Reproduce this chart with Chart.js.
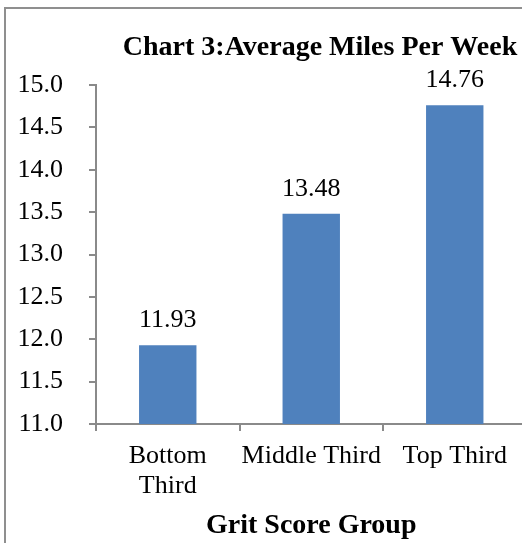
<!DOCTYPE html>
<html>
<head>
<meta charset="utf-8">
<script src="https://cdn.jsdelivr.net/npm/chart.js@4/dist/chart.umd.min.js"></script>
<style>
  html, body { margin: 0; padding: 0; width: 522px; height: 543px; overflow: hidden; background: #fff; }
  .frame { position: absolute; left: 4px; top: 7px; width: 700px; height: 700px; border: 2px solid #8f8f8f; }
  #chart { position: absolute; left: 0; top: 0; }
</style>
</head>
<body>
<div class="frame"></div>
<canvas id="chart" width="640" height="543"></canvas>
<script>
// data
const categories = [['Bottom', 'Third'], 'Middle Third', 'Top Third'];
const avgMiles = [11.93, 13.48, 14.76];
const yMin = 11.0;
const yMax = 15.0;
const yStep = 0.5;
const chartTitle = 'Chart 3:Average Miles Per Week';
const xTitle = 'Grit Score Group';

const serif = "'Liberation Serif', 'Times New Roman', serif";
const axisGray = '#8a8a8a';

// titre centré sur le canvas (comme dans Excel)
const titlePlugin = {
  id: 'topTitle',
  afterDraw(chart) {
    const ctx = chart.ctx;
    ctx.save();
    ctx.font = 'bold 28px ' + serif;
    ctx.fillStyle = '#000';
    ctx.textAlign = 'center';
    ctx.textBaseline = 'alphabetic';
    ctx.fillText(chartTitle, chart.width / 2, 55);
    ctx.restore();
  }
};

// valeurs au-dessus des barres
const valueLabels = {
  id: 'valueLabels',
  afterDatasetsDraw(chart) {
    const ctx = chart.ctx;
    const meta = chart.getDatasetMeta(0);
    ctx.save();
    ctx.font = '26px ' + serif;
    ctx.fillStyle = '#000';
    ctx.textAlign = 'center';
    ctx.textBaseline = 'alphabetic';
    meta.data.forEach((bar, i) => {
      ctx.fillText(avgMiles[i].toFixed(2), bar.x, bar.y - 18);
    });
    ctx.restore();
  }
};

new Chart(document.getElementById('chart'), {
  type: 'bar',
  data: {
    labels: categories,
    datasets: [{
      label: 'Average Miles Per Week',
      data: avgMiles,
      backgroundColor: '#4F81BD',
      borderWidth: 0,
      categoryPercentage: 0.4,
      barPercentage: 1.0
    }]
  },
  options: {
    responsive: false,
    animation: false,
    devicePixelRatio: 1,
    layout: { padding: { top: 85, left: 0, right: 113.5, bottom: 0 } },
    plugins: {
      legend: { display: false },
      tooltip: { enabled: false },
      title: { display: false }
    },
    scales: {
      x: {
        grid: { offset: true, drawOnChartArea: false, drawTicks: true, tickLength: 7, color: axisGray, lineWidth: 2 },
        border: { display: true, color: axisGray, width: 2 },
        ticks: { color: '#000', padding: 10, maxRotation: 0, autoSkip: false, font: { family: serif, size: 26, lineHeight: 1.15 } },
        title: { display: true, text: xTitle, color: '#000', padding: { top: 0, bottom: 0 }, font: { family: serif, size: 28, weight: 'bold', lineHeight: 1.2 } },
        afterFit(axis) { axis.height = 119; }
      },
      y: {
        min: yMin,
        max: yMax,
        grid: { drawOnChartArea: false, drawTicks: true, tickLength: 7, color: axisGray, lineWidth: 2 },
        border: { display: true, color: axisGray, width: 2 },
        ticks: {
          stepSize: yStep,
          color: '#000',
          padding: 26,
          font: { family: serif, size: 26 },
          callback: v => v.toFixed(1)
        },
        afterFit(axis) { axis.width = 96; }
      }
    }
  },
  plugins: [titlePlugin, valueLabels]
});
</script>
</body>
</html>
